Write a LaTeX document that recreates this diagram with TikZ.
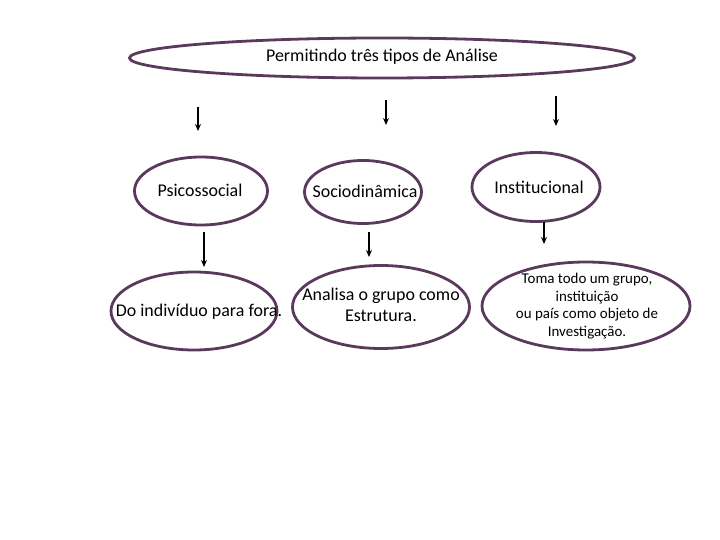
\documentclass[tikz,border=0pt]{standalone}
\usepackage{fontspec}
\setmainfont{Carlito}
\usetikzlibrary{shapes.geometric,arrows.meta}
\definecolor{ell}{HTML}{5A3A5C}
\begin{document}
\begin{tikzpicture}[x=1bp,y=-1bp,
  el/.style={draw=ell,line width=2.8bp,ellipse,inner sep=0pt},
  tx/.style={align=center,inner sep=0pt,font=\fontsize{18}{21}\selectfont},
  arr/.style={-{Stealth[length=7bp,width=6bp]},line width=1.2bp,black}]
\useasboundingbox (0,0) rectangle (720,540);
\node[el,minimum width=505bp,minimum height=40bp] (top) at (382,58) {};
\node[el,minimum width=133bp,minimum height=68bp] (p) at (201,191) {};
\node[el,minimum width=117bp,minimum height=63bp] (s) at (363,192) {};
\node[el,minimum width=128bp,minimum height=69bp] (i) at (536,187) {};
\node[el,minimum width=166bp,minimum height=78bp] (p2) at (194,311) {};
\node[el,minimum width=177bp,minimum height=83bp] (s2) at (381,307) {};
\node[el,minimum width=208bp,minimum height=88bp] (i2) at (586,306) {};
\node[tx] (topt) at (382,57) {Permitindo três tipos de Análise};
\node[tx] (pt) at (200,190) {Psicossocial};
\node[tx] (st) at (365,191) {Sociodinâmica};
\node[tx] (it) at (539,187) {Institucional};
\node[tx] (p2t) at (199,312) {Do indivíduo para fora.};
\node[tx] (s2t) at (381,305) {Analisa o grupo como\\Estrutura.};
\node[tx,font=\fontsize{15}{17.5}\selectfont] (i2t) at (587,306) {Toma todo um grupo,\\instituição\\ou país como objeto de\\Investigação.};
\coordinate (a1) at (198,107); \coordinate (b1) at (198,131);
\coordinate (a2) at (386,100); \coordinate (b2) at (386,125);
\coordinate (a3) at (556,96); \coordinate (b3) at (556,126);
\coordinate (a4) at (204,232); \coordinate (b4) at (204,267);
\coordinate (a5) at (369,232); \coordinate (b5) at (369,257);
\coordinate (a6) at (544,222); \coordinate (b6) at (544,244);
\foreach \n in {1,...,6} \draw[arr] (a\n) -- (b\n);
\end{tikzpicture}
\end{document}
